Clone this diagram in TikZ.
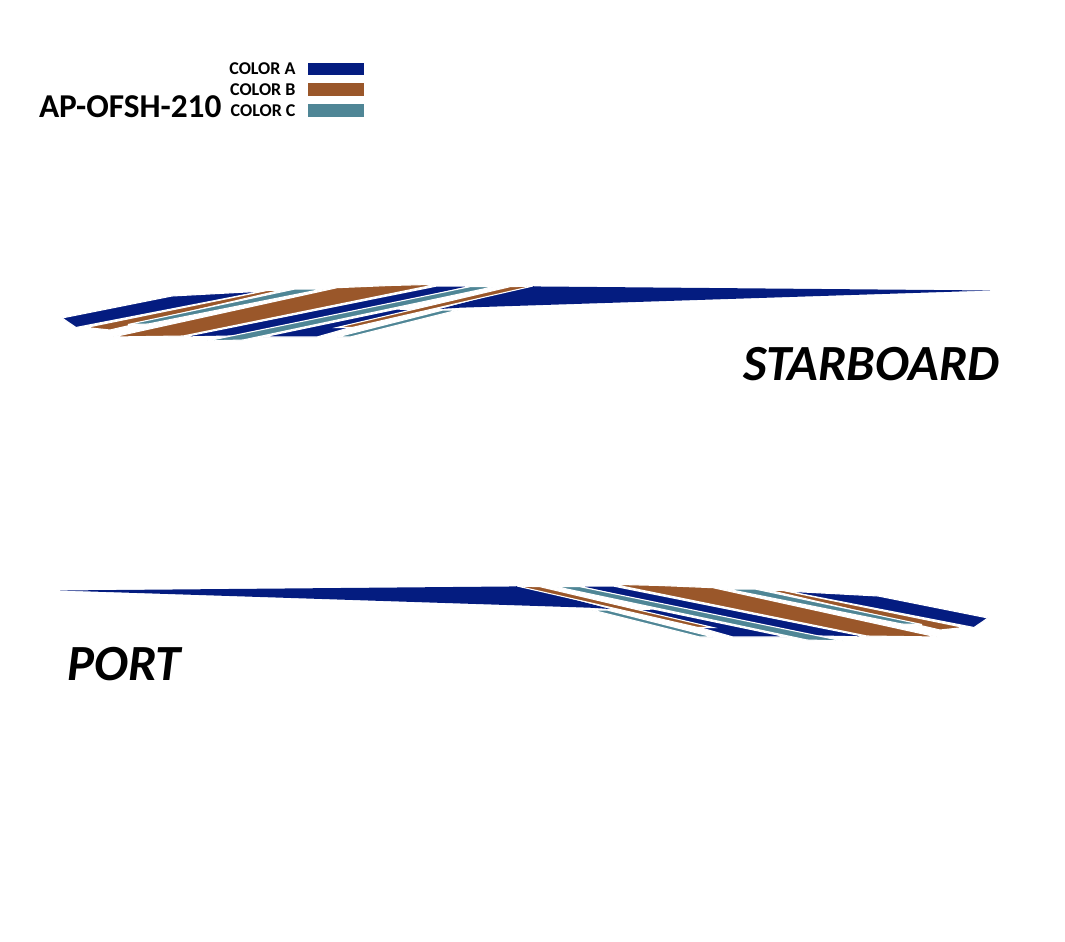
\documentclass[tikz,border=0pt]{standalone}
\usepackage{fontspec}
\setmainfont{Carlito}
\definecolor{colA}{RGB}{4,28,128}
\definecolor{colB}{RGB}{154,87,42}
\definecolor{colC}{RGB}{79,134,150}
\tikzset{every picture/.style={line width=0.75pt}}
\tikzset{band/.style={draw=white,line width=0.8pt,line join=miter}}
\newcommand\stripeset{%
%blue tail and blue bands
\fill[colA] (527,286) -- (541,286.5) -- (990,290.5) -- (460,307.7) -- (440,309) -- cycle;
\filldraw[band,fill=colA] (62,318) -- (172,296) -- (247,292) -- (264,291) -- (76,327.5) -- cycle;
\filldraw[band,fill=colA] (263,337) -- (317,337) -- (412,310) -- (397,309) -- cycle;
%brown bands
\filldraw[band,fill=colB] (86,327.5) -- (267,290.5) -- (282,290) -- (110,330) -- cycle;
\filldraw[band,fill=colB] (113,337) -- (337,287.7) -- (390,285.5) -- (437,284.3) -- (183,336) -- cycle;
\filldraw[band,fill=colB] (337,327.5) -- (352,327.5) -- (533,286) -- (510,286.7) -- cycle;
%blue and teal bands
\filldraw[band,fill=colA] (183,337) -- (437,286) -- (472,286) -- (252,335.5) -- cycle;
\filldraw[band,fill=colC] (128,324.5) -- (295,289) -- (323,289) -- (148,324) -- cycle;
\filldraw[band,fill=colC] (207,341) -- (243,340) -- (495,286.5) -- (470,286.7) -- cycle;
\filldraw[band,fill=colC] (337,337) -- (350,337) -- (458,310) -- (443,310) -- cycle;
}

\begin{document}
\begin{tikzpicture}[x=0.75pt,y=0.75pt,yscale=-1,xscale=1]
\useasboundingbox (0,0) rectangle (1065,942);

%legend
\node (lblA) [anchor=east,inner sep=0.75pt,font=\bfseries\fontsize{13.5}{13.5}\selectfont] at (297,69) {COLOR A};
\node (lblB) [anchor=east,inner sep=0.75pt,font=\bfseries\fontsize{13.5}{13.5}\selectfont] at (297,90) {COLOR B};
\node (lblC) [anchor=east,inner sep=0.75pt,font=\bfseries\fontsize{13.5}{13.5}\selectfont] at (297,111) {COLOR C};
\fill[colA] (308,63) rectangle (364,75);
\fill[colB] (308,83) rectangle (364,96);
\fill[colC] (308,104) rectangle (364,117);
\node (model) [anchor=east,inner sep=0.75pt,font=\bfseries\fontsize{25}{25}\selectfont] at (223,107) {AP-OFSH-210};

%starboard side
\stripeset
\node (stbd) [anchor=east,inner sep=0.75pt,font=\bfseries\itshape\fontsize{38}{38}\selectfont] at (1001,364) {STARBOARD};

%port side, mirrored
\begin{scope}[shift={(1050,300)},xscale=-1]
\stripeset
\end{scope}
\node (port) [anchor=west,inner sep=0.75pt,font=\bfseries\itshape\fontsize{38}{38}\selectfont] at (66,664) {PORT};

\end{tikzpicture}
\end{document}
